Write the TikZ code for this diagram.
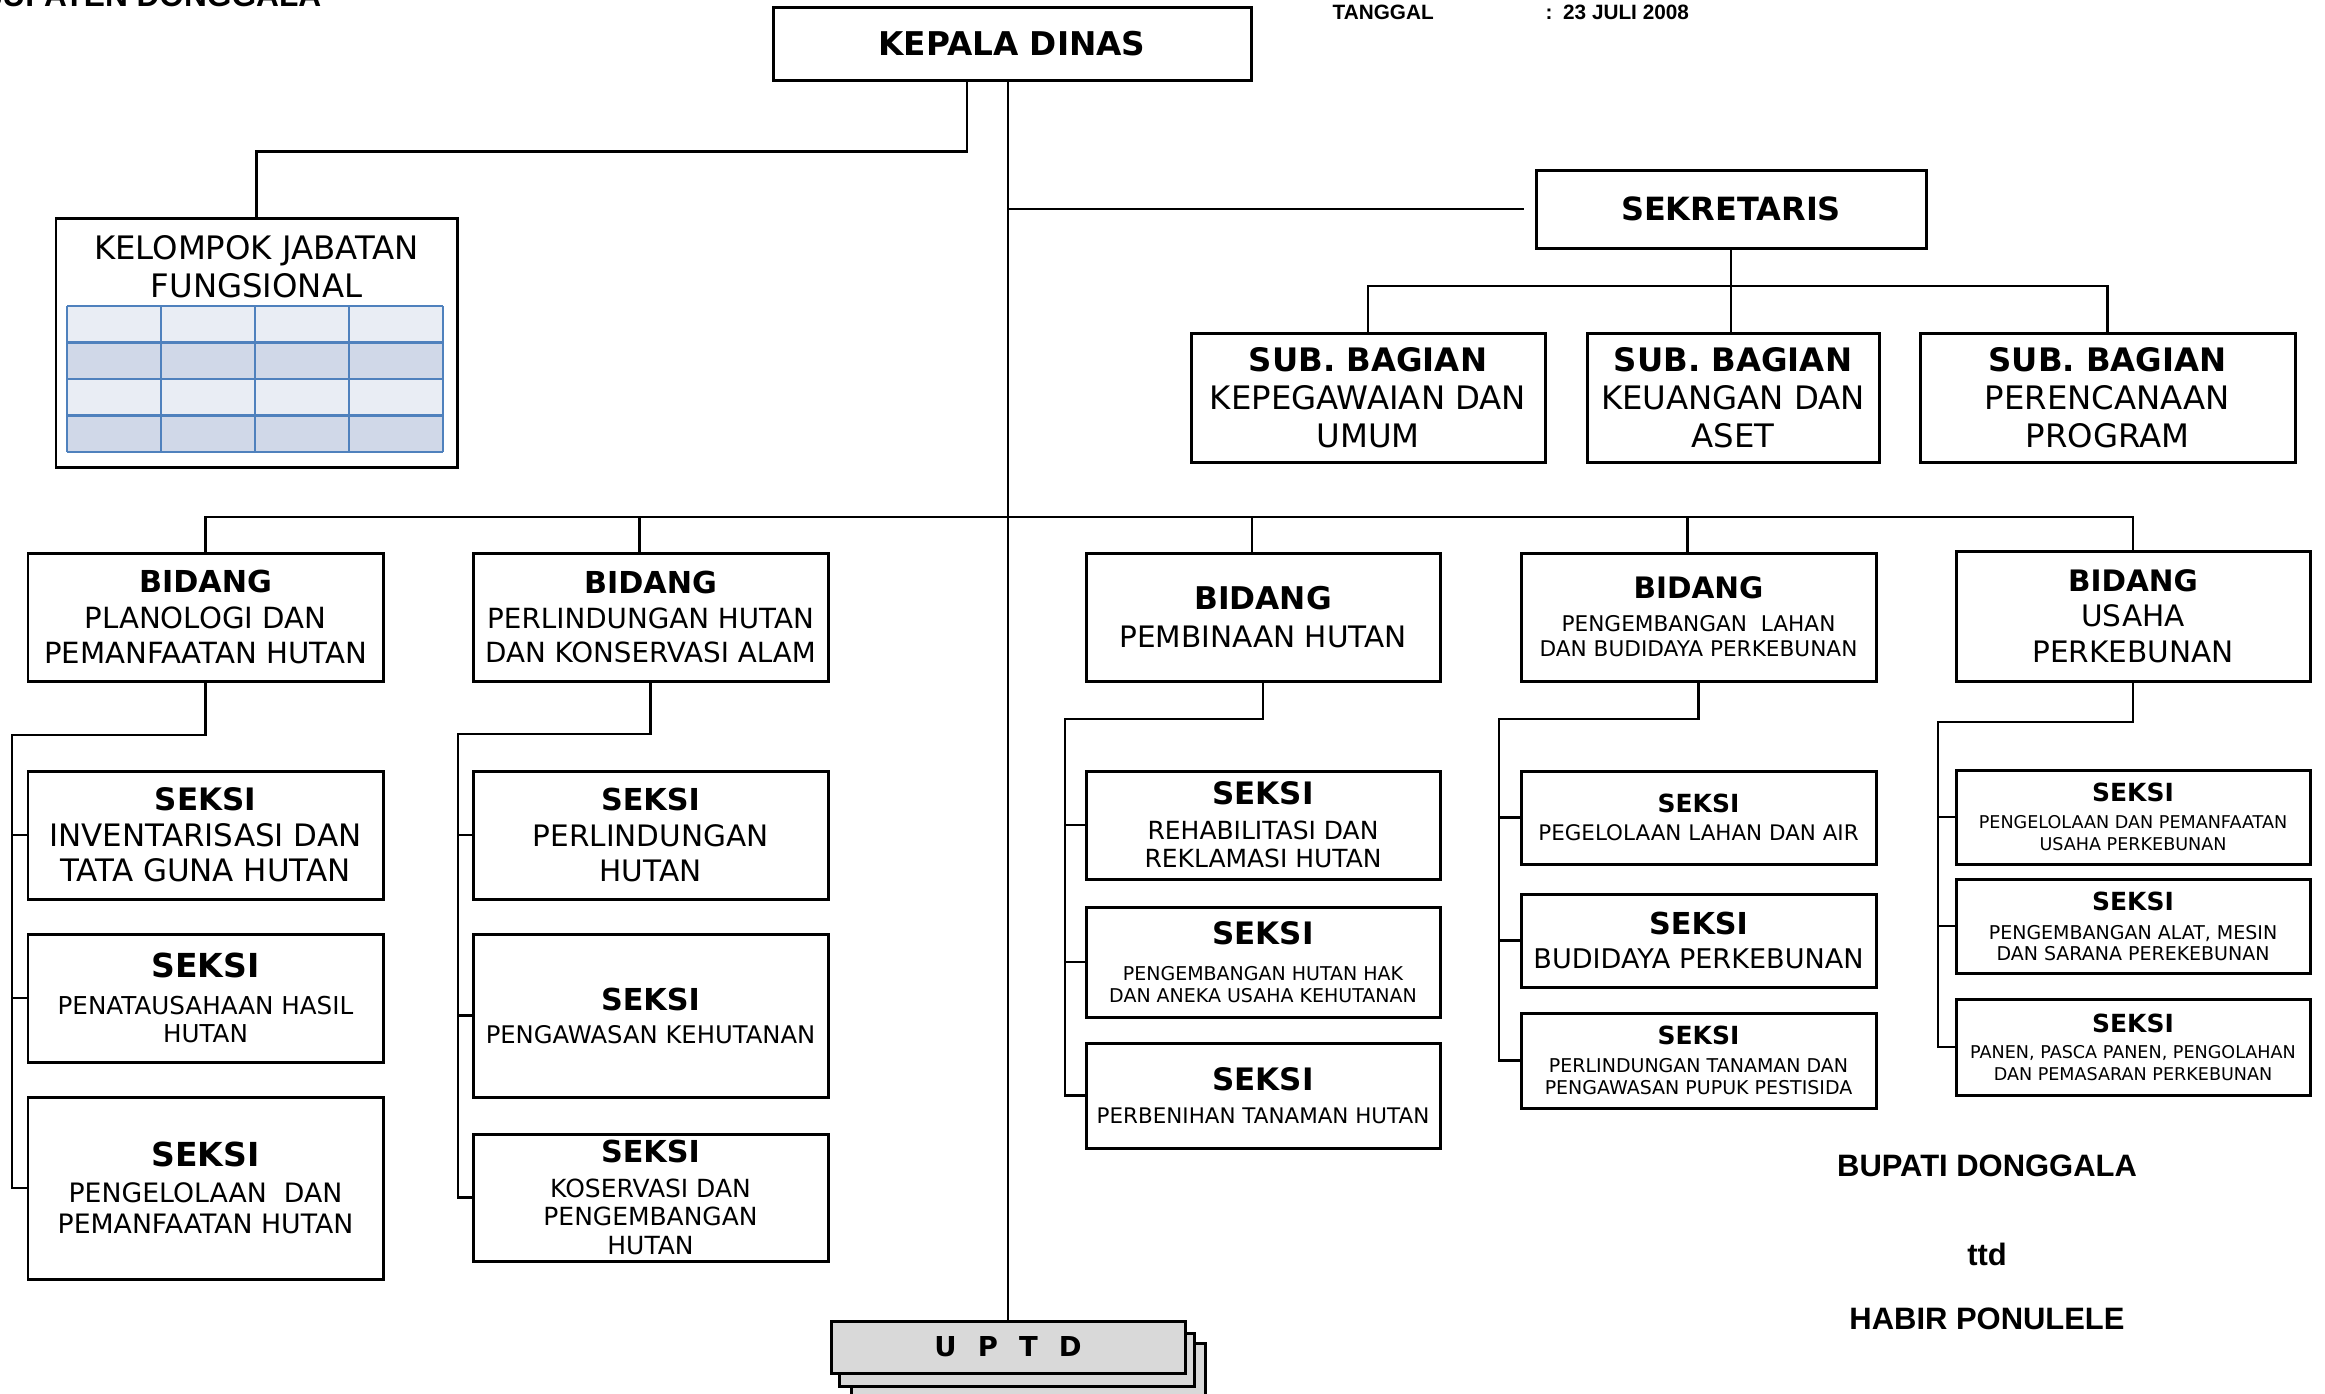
\documentclass[tikz,border=0pt]{standalone}
\usepackage{fontspec}
\setmainfont{DejaVu Sans}
\newfontfamily\arialfont{Liberation Sans}
\usepackage{tikz}

\definecolor{kjflight}{HTML}{E9EDF4}
\definecolor{kjfdark}{HTML}{D0D8E8}
\definecolor{kjfline}{HTML}{4F81BD}
\definecolor{uptdgray}{HTML}{D9D9D9}

\newcommand\fsz[2]{\fontsize{#1}{#2}\selectfont}
\newcommand\hd[2]{{\fontsize{#1}{#1}\selectfont\bfseries #2}}

\begin{document}
\begin{tikzpicture}[x=0.01cm, y=-0.01cm,
        box/.style={draw, line width=0.85pt, align=center, inner sep=0pt},
        sz/.style 2 args={minimum width=#1*0.01cm, minimum height=#2*0.01cm},
        conn/.style={line width=0.7pt},
        lbl/.style={inner sep=0pt}]
        \useasboundingbox (0,0) rectangle (2325,1393);
        \clip (0,0) rectangle (2325,1393);

        % Header texts
        \node[lbl, anchor=base east, font=\arialfont\bfseries\fsz{9}{11}] (kab) at (322,6) {KABUPATEN DONGGALA};
        \node[lbl, anchor=base west, font=\arialfont\bfseries\fsz{5.9}{7}] (tgl) at (1332,19) {TANGGAL};
        \node[lbl, anchor=base west, font=\arialfont\bfseries\fsz{5.9}{7}] (tglval) at (1545,19) {:\hspace{3pt}23 JULI 2008};

        % Kepala dinas
        \node[box, sz={478}{73}, font=\bfseries\fsz{9.3}{11}] (kd) at (1012,43.5) {KEPALA DINAS};

        % Kelompok jabatan fungsional with its table
        \node[box, sz={401}{249}] (kjf) at (256.5,342.5) {};
        \node[lbl, align=center, font=\fsz{9.2}{10.8}] (kjflbl) at (256.5,267) {KELOMPOK JABATAN\\FUNGSIONAL};
        \foreach \r/\c in {0/kjflight,1/kjfdark,2/kjflight,3/kjfdark}
            \fill[\c] (67,306+36.5*\r) rectangle (443,342.5+36.5*\r);
        \foreach \i in {0,...,4} {
            \draw[kjfline, line width=0.6pt] (67+94*\i,306) -- (67+94*\i,452);
            \draw[kjfline, line width=0.6pt] (67,306+36.5*\i) -- (443,306+36.5*\i);
        }

        % Sekretaris and sub bagian
        \node[box, sz={390}{78}, font=\bfseries\fsz{9.1}{11}] (sek) at (1731,209) {SEKRETARIS};
        \node[box, sz={354}{129}, font=\fsz{9.2}{10.8}] (sb1) at (1368,397.5) {\hd{9.2}{SUB. BAGIAN}\\KEPEGAWAIAN DAN\\UMUM};
        \node[box, sz={292}{129}, font=\fsz{9.2}{10.8}] (sb2) at (1733,397.5) {\hd{9.2}{SUB. BAGIAN}\\KEUANGAN DAN\\ASET};
        \node[box, sz={375}{129}, font=\fsz{9.2}{10.8}] (sb3) at (2107.5,397.5) {\hd{9.2}{SUB. BAGIAN}\\PERENCANAAN\\PROGRAM};

        % Bidang
        \node[box, sz={355}{128}, font=\fsz{8.3}{10.1}] (b1) at (205.5,617) {\hd{8.6}{BIDANG}\\PLANOLOGI DAN\\PEMANFAATAN HUTAN};
        \node[box, sz={355}{128}, font=\fsz{7.9}{9.7}] (b2) at (650.5,617) {\hd{8.6}{BIDANG}\\PERLINDUNGAN HUTAN\\DAN KONSERVASI ALAM};
        \node[box, sz={354}{128}, font=\fsz{8.4}{11}] (b3) at (1263,617) {\hd{8.9}{BIDANG}\\PEMBINAAN HUTAN};
        \node[box, sz={355}{128}, font=\fsz{6.15}{7.1}] (b4) at (1698.5,617) {\hd{8.4}{BIDANG}\\[2.3pt]PENGEMBANGAN\ \ LAHAN\\DAN BUDIDAYA PERKEBUNAN};
        \node[box, sz={354}{130}, font=\fsz{8.4}{10.1}] (b5) at (2133,616) {\hd{8.4}{BIDANG}\\USAHA\\PERKEBUNAN};

        % Seksi
        \node[box, sz={355}{128}, font=\fsz{8.8}{10.1}] (s11) at (205.5,835) {\hd{8.8}{SEKSI}\\INVENTARISASI DAN\\TATA GUNA HUTAN};
        \node[box, sz={355}{128}, font=\fsz{7.0}{8.0}] (s12) at (205.5,998) {\hd{9.4}{SEKSI}\\[2.3pt]PENATAUSAHAAN HASIL\\HUTAN};
        \node[box, sz={355}{182}, font=\fsz{7.6}{8.8}] (s13) at (205.5,1188) {\hd{9.4}{SEKSI}\\[1.5pt]PENGELOLAAN\ \ DAN\\PEMANFAATAN HUTAN};

        \node[box, sz={355}{128}, font=\fsz{8.4}{10.1}] (s21) at (650.5,835) {\hd{8.6}{SEKSI}\\PERLINDUNGAN\\HUTAN};
        \node[box, sz={355}{163}, font=\fsz{6.9}{9.4}] (s22) at (650.5,1015.5) {\hd{8.6}{SEKSI}\\PENGAWASAN KEHUTANAN};
        \node[box, sz={355}{127}, font=\fsz{7.1}{8.2}] (s23) at (650.5,1197.5) {\hd{8.6}{SEKSI}\\[1.7pt]KOSERVASI DAN\\PENGEMBANGAN\\HUTAN};

        \node[box, sz={354}{108}, font=\fsz{7.1}{8.0}] (s31) at (1263,825) {\hd{8.8}{SEKSI}\\[2pt]REHABILITASI DAN\\REKLAMASI HUTAN};
        \node[box, sz={354}{110}, font=\fsz{5.4}{6.3}] (s32) at (1263,962) {\hd{8.8}{SEKSI}\\[3.8pt]PENGEMBANGAN HUTAN HAK\\DAN ANEKA USAHA KEHUTANAN};
        \node[box, sz={354}{105}, font=\fsz{6.1}{9.5}] (s33) at (1263,1095.5) {\hd{8.8}{SEKSI}\\PERBENIHAN TANAMAN HUTAN};

        \node[box, sz={355}{93}, font=\fsz{6.1}{8.0}] (s41) at (1698.5,817.5) {\hd{7.1}{SEKSI}\\PEGELOLAAN LAHAN DAN AIR};
        \node[box, sz={355}{93}, font=\fsz{7.7}{9.7}] (s42) at (1698.5,940.5) {\hd{8.6}{SEKSI}\\BUDIDAYA PERKEBUNAN};
        \node[box, sz={355}{95}, font=\fsz{5.4}{6.3}] (s43) at (1698.5,1060.5) {\hd{7.1}{SEKSI}\\[1.7pt]PERLINDUNGAN TANAMAN DAN\\PENGAWASAN PUPUK PESTISIDA};

        \node[box, sz={354}{94}, font=\fsz{5.0}{6.3}] (s51) at (2133,817) {\hd{7.1}{SEKSI}\\[1.3pt]PENGELOLAAN DAN PEMANFAATAN\\USAHA PERKEBUNAN};
        \node[box, sz={354}{94}, font=\fsz{5.4}{6.0}] (s52) at (2133,926) {\hd{7.1}{SEKSI}\\[2.3pt]PENGEMBANGAN ALAT, MESIN\\DAN SARANA PEREKEBUNAN};
        \node[box, sz={354}{96}, font=\fsz{5.0}{6.0}] (s53) at (2133,1047) {\hd{7.1}{SEKSI}\\[1.6pt]PANEN, PASCA PANEN, PENGOLAHAN\\DAN PEMASARAN PERKEBUNAN};

        % UPTD stack
        \node[box, sz={354}{52}, fill=uptdgray] (uptd3) at (1028,1369) {};
        \node[box, sz={355}{53}, fill=uptdgray] (uptd2) at (1016.5,1359.5) {};
        \node[box, sz={354}{52}, fill=uptdgray, font=\bfseries\fsz{7.8}{9}] (uptd) at (1008,1347) {U\hspace{6pt}P\hspace{6pt}T\hspace{6pt}D};

        % Signature
        \node[lbl, anchor=base, font=\arialfont\bfseries\fsz{8.8}{10}] (bupati) at (1987,1176) {BUPATI DONGGALA};
        \node[lbl, anchor=base, font=\arialfont\bfseries\fsz{8.8}{10}] (ttd) at (1987,1265) {ttd};
        \node[lbl, anchor=base, font=\arialfont\bfseries\fsz{8.8}{10}] (habir) at (1987,1329) {HABIR PONULELE};

        % Lines from kepala dinas
        \draw[conn] (uptd.north |- kd.south) -- (uptd.north);
        \draw[conn] ([xshift=-0.45cm]kd.south) -- ++(0,70) -| (kjf.north);
        \draw[conn] (uptd.north |- sek.west) -- ([xshift=-0.11cm]sek.west);

        % Sekretaris to sub bagian
        \coordinate (sbbar) at (1732,286);
        \draw[conn] (sek.south) -- (sek.south |- sb2.north);
        \draw[conn] (sb1.north) |- (sbbar) -| (sb3.north);

        % Bidang bar
        \coordinate (bbar) at (1007,517);
        \draw[conn] (b1.north) |- (bbar) -| (b5.north);
        \foreach \b in {b2,b3,b4}
            \draw[conn] ([xshift=-0.11cm]\b.north) -- ++(0,-36);

        % Bidang to seksi brackets
        \foreach \b/\cx/\cy/\sa/\sb/\sc in {b1/12/735/s11/s12/s13,
            b2/458/734/s21/s22/s23, b3/1065/719/s31/s32/s33,
            b4/1499/719/s41/s42/s43, b5/1938/722/s51/s52/s53} {
            \coordinate (c\b) at (\cx,\cy);
            \draw[conn] (\b.south) |- (c\b) |- (\sc.west);
            \draw[conn] (c\b |- \sa.west) -- (\sa.west);
            \draw[conn] (c\b |- \sb.west) -- (\sb.west);
        }
    \end{tikzpicture}
\end{document}
